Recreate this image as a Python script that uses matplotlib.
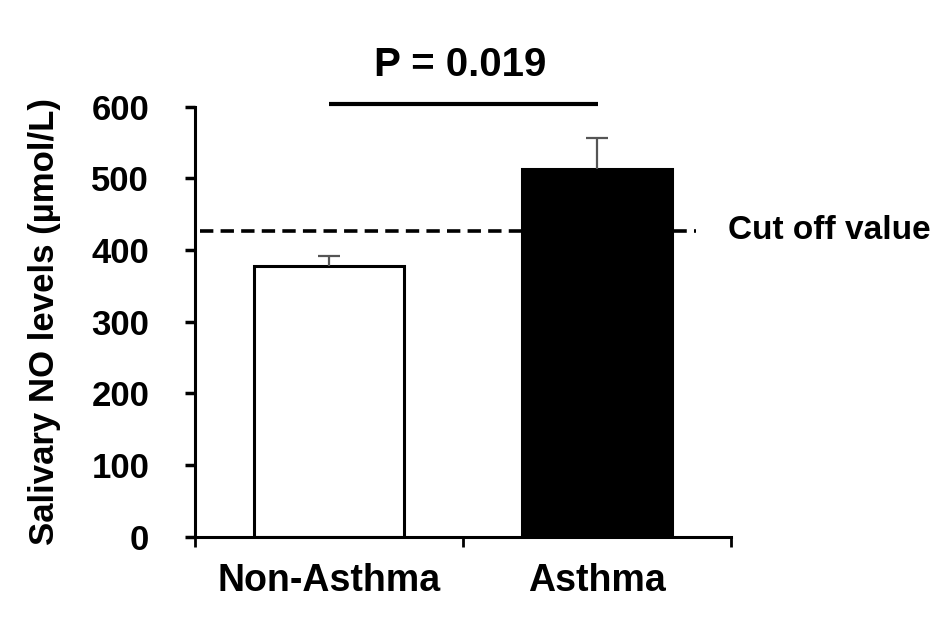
import numpy as np
import matplotlib
matplotlib.use("Agg")
import matplotlib.pyplot as plt

# data
groups = ["Non-Asthma", "Asthma"]
means = [378, 513]
errors = [13, 43]
cutoff = 427
p_text = "P = 0.019"
yticks = [0, 100, 200, 300, 400, 500, 600]

plt.rcParams['font.family'] = ['Liberation Sans', 'DejaVu Sans']
plt.rcParams['font.weight'] = 'bold'

fig = plt.figure(figsize=(9.45, 6.2), dpi=100)
ax = fig.add_axes([195/945, 1 - 536.7/620, 536/945, 430/620])

x = np.arange(len(groups))
ax.bar(x, means, width=0.56, color=['white', 'black'], edgecolor='black',
       linewidth=2.2, zorder=2)
eb = ax.errorbar(x, means, yerr=[np.zeros(len(errors)), errors], fmt='none',
                 ecolor='#555555', elinewidth=1.6, capsize=8, capthick=1.6,
                 zorder=3)
# only the upper cap is shown
eb[1][0].set_visible(False)

# cut off line
ax.plot([-0.48, 1.37], [cutoff, cutoff], color='black', lw=2.6,
        dashes=(3.7, 2), zorder=1, clip_on=False)
ax.text(1.49, cutoff, "Cut off value", ha='left', va='center', fontsize=24,
        fontweight='bold', clip_on=False)

# significance bar
ax.plot([0, 1.005], [603.5, 603.5], color='black', lw=3, clip_on=False,
        solid_capstyle='butt')
ax.text(0.49, 658, p_text, ha='center', va='center', fontsize=29,
        fontweight='bold', clip_on=False)

ax.set_xlim(-0.5, 1.5)
ax.set_ylim(0, 600)
ax.set_yticks(yticks)
ax.set_yticklabels([str(v) for v in yticks])
ax.set_xticks([-0.5, 0.5, 1.5])
ax.set_xticklabels([])
ax.set_xticks(x, minor=True)
ax.set_xticklabels(groups, minor=True)
ax.tick_params(axis='x', which='minor', length=0, pad=19, labelsize=27)
ax.tick_params(axis='x', which='major', length=7, width=2, direction='out')
ax.tick_params(axis='y', length=7, width=2.5, direction='out', pad=26,
               labelsize=25)

for s in ['top', 'right']:
    ax.spines[s].set_visible(False)
for s in ['left', 'bottom']:
    ax.spines[s].set_linewidth(2.2)

ax.set_ylabel("Salivary NO levels (µmol/L)", fontsize=25, fontweight='bold')
ax.yaxis.set_label_coords(-0.25, 0.5)

fig.savefig("out.png", dpi=100)
